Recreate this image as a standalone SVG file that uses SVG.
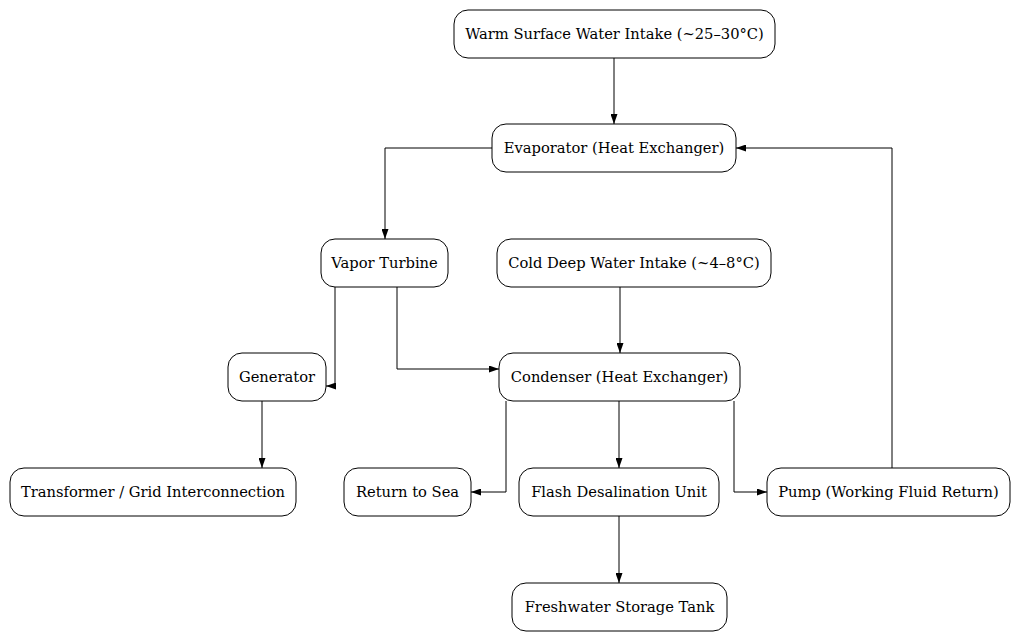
<svg xmlns="http://www.w3.org/2000/svg" width="1020" height="641" viewBox="0 0 1020 641">
<style>
.node rect{fill:#fff;stroke:#000;stroke-width:1}
.node text{font-family:"DejaVu Serif",serif;font-size:14.7px;text-anchor:middle;fill:#000}
.edge{fill:none;stroke:#000;stroke-width:1}
</style>
<defs>
<marker id="ah" markerUnits="userSpaceOnUse" viewBox="0 0 10 7" refX="10" refY="3.5" markerWidth="10" markerHeight="7" orient="auto">
<polygon points="0,0 10,3.5 0,7" fill="#000"/>
</marker>
</defs>
<rect width="1020" height="641" fill="#fff"/>
<g id="edges">
<path class="edge" d="M614,58 V124" marker-end="url(#ah)"/>
<path class="edge" d="M492,148 H385 V239" marker-end="url(#ah)"/>
<path class="edge" d="M892,468 V148 H736" marker-end="url(#ah)"/>
<path class="edge" d="M335,287 V386 H326" marker-end="url(#ah)"/>
<path class="edge" d="M397,287 V369 H499" marker-end="url(#ah)"/>
<path class="edge" d="M620,287 V353" marker-end="url(#ah)"/>
<path class="edge" d="M262,401 V468" marker-end="url(#ah)"/>
<path class="edge" d="M506,401 V492 H471" marker-end="url(#ah)"/>
<path class="edge" d="M619,401 V468" marker-end="url(#ah)"/>
<path class="edge" d="M734,401 V492 H767" marker-end="url(#ah)"/>
<path class="edge" d="M619,516 V583" marker-end="url(#ah)"/>
</g>
<g id="warm" class="node"><rect x="454" y="10" width="321" height="48" rx="14"/><text x="614.5" y="39">Warm Surface Water Intake (~25–30°C)</text></g>
<g id="evaporator" class="node"><rect x="492" y="124" width="244" height="48" rx="14"/><text x="614" y="153">Evaporator (Heat Exchanger)</text></g>
<g id="turbine" class="node"><rect x="321" y="239" width="127" height="48" rx="14"/><text x="384.5" y="268">Vapor Turbine</text></g>
<g id="cold" class="node"><rect x="497" y="239" width="274" height="48" rx="14"/><text x="634" y="268">Cold Deep Water Intake (~4–8°C)</text></g>
<g id="generator" class="node"><rect x="228" y="353" width="98" height="48" rx="14"/><text x="277" y="382">Generator</text></g>
<g id="condenser" class="node"><rect x="499" y="353" width="241" height="48" rx="14"/><text x="619.5" y="382">Condenser (Heat Exchanger)</text></g>
<g id="transformer" class="node"><rect x="10" y="468" width="286" height="48" rx="14"/><text x="153" y="497">Transformer / Grid Interconnection</text></g>
<g id="returnsea" class="node"><rect x="344" y="468" width="127" height="48" rx="14"/><text x="407.5" y="497">Return to Sea</text></g>
<g id="flash" class="node"><rect x="519" y="468" width="200" height="48" rx="14"/><text x="619" y="497">Flash Desalination Unit</text></g>
<g id="pump" class="node"><rect x="767" y="468" width="243" height="48" rx="14"/><text x="888.5" y="497">Pump (Working Fluid Return)</text></g>
<g id="freshwater" class="node"><rect x="512" y="583" width="215" height="48" rx="14"/><text x="619.5" y="612">Freshwater Storage Tank</text></g>
</svg>
